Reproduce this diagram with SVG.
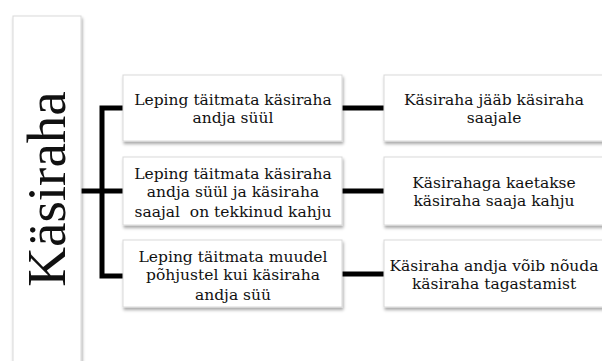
<svg xmlns="http://www.w3.org/2000/svg" width="602" height="361" viewBox="0 0 602 361">
<defs>
<filter id="sh" x="-10%" y="-10%" width="130%" height="140%">
<feDropShadow dx="1" dy="2.5" stdDeviation="1.6" flood-color="#000" flood-opacity="0.35"/>
</filter>
<style>
.box{fill:#fff;stroke:#d9d9d9;stroke-width:1;filter:url(#sh)}
.t{font-family:"DejaVu Serif","Liberation Serif",serif;font-size:15.5px;fill:#111;text-anchor:middle}
.big{font-family:"Liberation Serif","Times New Roman",serif;font-size:55px;fill:#111;text-anchor:middle}
.c{stroke:#000;stroke-width:5;fill:none}
</style>
</defs>
<rect width="602" height="361" fill="#fff"/>
<g id="connectors">
<line class="c" x1="81" y1="191" x2="102" y2="191"/>
<polyline class="c" points="123,108 102,108 102,276 123,276"/>
<line class="c" x1="102" y1="191" x2="123" y2="191"/>
<line class="c" x1="342" y1="108" x2="384" y2="108"/>
<line class="c" x1="342" y1="191" x2="384" y2="191"/>
<line class="c" x1="342" y1="274" x2="384" y2="274"/>
</g>
<g id="root">
<rect class="box" x="13" y="16" width="68" height="360"/>
<text class="big" transform="translate(65,189) rotate(-90)">Käsiraha</text>
</g>
<g id="c1">
<rect class="box" x="123" y="75" width="219" height="66"/>
<text class="t" x="233" y="105">Leping täitmata käsiraha</text>
<text class="t" x="233" y="123">andja süül</text>
</g>
<g id="c2">
<rect class="box" x="123" y="157" width="219" height="68"/>
<text class="t" x="233" y="179">Leping täitmata käsiraha</text>
<text class="t" x="233" y="197">andja süül ja käsiraha</text>
<text class="t" x="233" y="217" xml:space="preserve">saajal  on tekkinud kahju</text>
</g>
<g id="c3">
<rect class="box" x="123" y="240" width="219" height="67"/>
<text class="t" x="233" y="262">Leping täitmata muudel</text>
<text class="t" x="233" y="280">põhjustel kui käsiraha</text>
<text class="t" x="233" y="300">andja süü</text>
</g>
<g id="r1">
<rect class="box" x="384" y="75" width="222" height="66"/>
<text class="t" x="494" y="105">Käsiraha jääb käsiraha</text>
<text class="t" x="494" y="123">saajale</text>
</g>
<g id="r2">
<rect class="box" x="384" y="157" width="222" height="68"/>
<text class="t" x="494" y="188">Käsirahaga kaetakse</text>
<text class="t" x="494" y="206">käsiraha saaja kahju</text>
</g>
<g id="r3">
<rect class="box" x="384" y="240" width="222" height="67"/>
<text class="t" x="494" y="271">Käsiraha andja võib nõuda</text>
<text class="t" x="494" y="289">käsiraha tagastamist</text>
</g>
</svg>
